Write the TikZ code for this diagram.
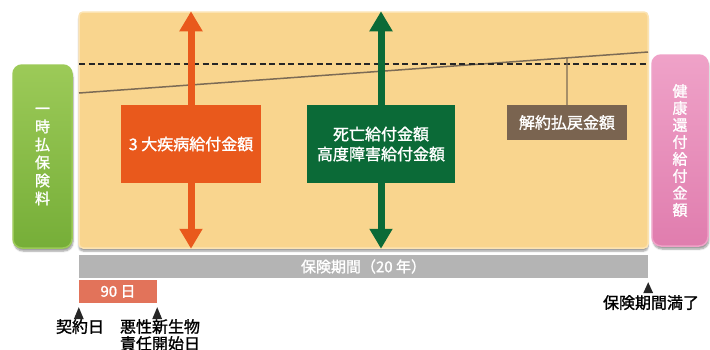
\documentclass[tikz,border=0pt]{standalone}
\usepackage{fontspec}
\newfontfamily\cjk{Noto Sans CJK JP}[FakeBold=1.3]
\usepackage{xcolor}
\usetikzlibrary{arrows.meta,calc,positioning,shadows.blur}
\definecolor{PeriodFill}{HTML}{F9D58E}
\definecolor{PeriodEdge}{HTML}{FCE3B2}
\definecolor{PayGreen}{HTML}{76AE38}
\definecolor{PayGreenTop}{HTML}{9CCA58}
\definecolor{RefundPink}{HTML}{E07DAE}
\definecolor{RefundPinkTop}{HTML}{EFA2C8}
\definecolor{SickOrange}{HTML}{E9591C}
\definecolor{DeathGreen}{HTML}{0B6A37}
\definecolor{SurrBrown}{HTML}{7A6450}
\definecolor{TermGray}{HTML}{B4B4B4}
\definecolor{WaitRed}{HTML}{E2735A}
\definecolor{SlopeLine}{HTML}{7C6B55}
\tikzset{
	box/.style={rectangle, text=white, inner sep=0pt, align=center},
	sidebox/.style={box, rounded corners=9pt, line width=1.5pt, blur shadow={shadow xshift=1pt, shadow yshift=-3pt, shadow blur steps=6}},
	payarrow/.style={draw=#1, line width=7pt, -{Triangle[width=22pt,length=20pt]}},
	marker/.style={fill=black!85}
}
\begin{document}
\begin{tikzpicture}[x=1pt, y=-1pt, font=\cjk\fontsize{16}{19}\selectfont]
	\useasboundingbox (0,0) rectangle (710,349);
	\node[box, fill=PeriodFill, draw=PeriodEdge, line width=1.5pt, rounded corners=4pt, minimum width=569pt, minimum height=236pt, blur shadow={shadow xshift=0pt, shadow yshift=-3pt, shadow blur steps=6}] (period) at (363.5,130) {};
	\node[sidebox, top color=PayGreenTop, bottom color=PayGreen, draw=PayGreenTop, minimum width=59pt, minimum height=183pt, font=\cjk\fontsize{15}{18}\selectfont] (pay) at (42.5,156.5) {一\\時\\払\\保\\険\\料};
	\node[sidebox, top color=RefundPinkTop, bottom color=RefundPink, draw=RefundPinkTop, minimum width=56pt, minimum height=191pt, font=\cjk\fontsize{15}{17}\selectfont] (refund) at (680,150.5) {健\\康\\還\\付\\給\\付\\金\\額};
	\coordinate (slopeL) at (79,93);
	\coordinate (slopeR) at (648,52);
	\draw[SlopeLine, line width=1.5pt] (slopeL) -- (slopeR);
	\draw[black!85, line width=2.2pt, dash pattern=on 6pt off 3.5pt] (79,64) -- (648,64);
	\node[box, fill=SickOrange, minimum width=140pt, minimum height=78pt] (sick) at (191,144) {3 大疾病給付金額};
	\node[box, fill=DeathGreen, minimum width=148pt, minimum height=78pt, font=\cjk\fontsize{16}{20}\selectfont] (death) at (381,144) {死亡給付金額\\高度障害給付金額};
	\node[box, fill=SurrBrown, minimum width=120pt, minimum height=35pt] (surr) at (567,122.5) {解約払戻金額};
	\draw[payarrow=SickOrange] (sick.north) -- (sick.north |- period.north);
	\draw[payarrow=SickOrange] (sick.south) -- (sick.south |- period.south);
	\draw[payarrow=DeathGreen] (death.north) -- (death.north |- period.north);
	\draw[payarrow=DeathGreen] (death.south) -- (death.south |- period.south);
	\draw[SlopeLine, line width=1.2pt] (surr.north) -- ($(slopeL)!0.8576!(slopeR)$);
	\node[box, fill=TermGray, minimum width=569pt, minimum height=23pt, font=\cjk\fontsize{15}{16}\selectfont] (term) at (363.5,266.5) {保険期間（20 年）};
	\node[box, fill=WaitRed, minimum width=78pt, minimum height=23pt, font=\cjk\fontsize{15}{16}\selectfont] (wait) at (118,291.5) {90 日};
	\fill[marker] (wait.south west) ++(0,4) -- ++(5,12) -- ++(-10,0) -- cycle;
	\fill[marker] (wait.south east) ++(0,4) -- ++(5,12) -- ++(-10,0) -- cycle;
	\fill[marker] (term.south east) ++(0,4) -- ++(5,11) -- ++(-10,0) -- cycle;
	\node[anchor=north, inner sep=0pt] (start) at (80,319) {契約日};
	\node[anchor=north, inner sep=0pt, align=center, font=\cjk\fontsize{16}{17}\selectfont] (cover) at (160,319) {悪性新生物\\責任開始日};
	\node[anchor=north, inner sep=0pt] (expiry) at (651,295) {保険期間満了};
\end{tikzpicture}
\end{document}
